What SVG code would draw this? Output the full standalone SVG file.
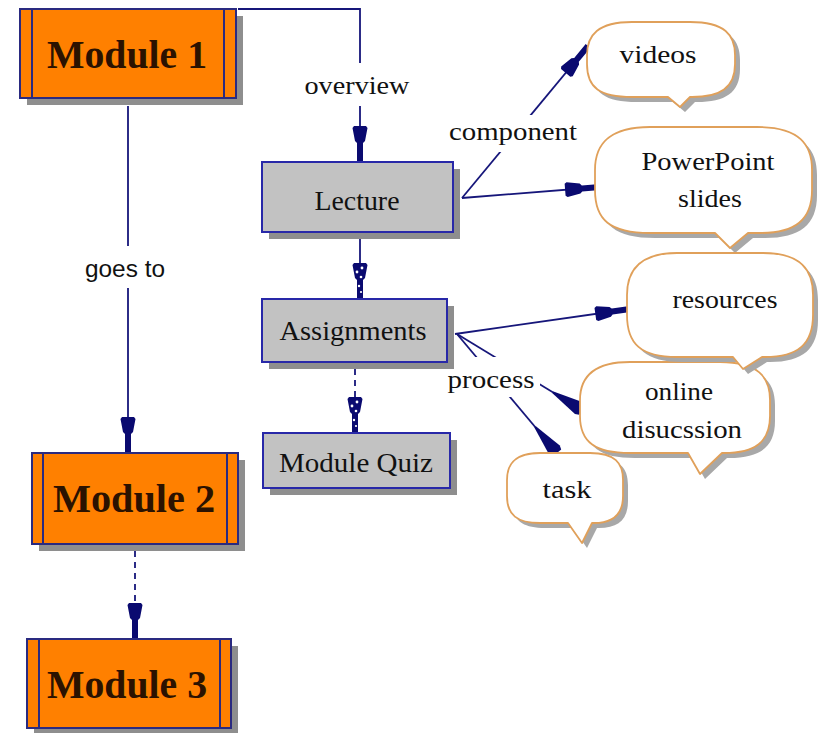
<svg xmlns="http://www.w3.org/2000/svg" width="819" height="733" viewBox="0 0 819 733">
<style>
.bg{fill:#ffffff}
.mod{fill:#ff8000;stroke:#2a2a80;stroke-width:2}
.modl{stroke:#2a2a80;stroke-width:2}
.gry{fill:#c2c2c2;stroke:#2828a8;stroke-width:2}
.sh{fill:#8e8e8e}
.bub{fill:#ffffff;stroke:#e0a05a;stroke-width:1.8;stroke-linejoin:round}
.bsh{fill:#a8a8a8}
.ln{fill:none;stroke:#16167a;stroke-width:1.8}
.dash{stroke-dasharray:6 5}
.lbg{fill:#ffffff}
.t{font-family:"Liberation Serif","Times New Roman",serif;fill:#111;text-anchor:middle}
.tm{font-family:"Liberation Serif","Times New Roman",serif;fill:#2b1200;text-anchor:middle;font-size:40px;font-weight:bold}
.ts{font-family:"Liberation Sans",Arial,sans-serif;fill:#111;text-anchor:middle;font-size:23px}
</style>
<defs>
<marker id="nib" viewBox="-36 -9 37 18" refX="0" refY="0" markerWidth="37" markerHeight="18" markerUnits="userSpaceOnUse" orient="auto">
<path d="M-35,-6 L-33,-7.5 L-20,-5 L-18,-3 L0,-3 L0,3 L-18,3 L-20,5 L-33,7.5 L-35,6 Z" fill="#0a0a70"/>
</marker>
<marker id="nibd" viewBox="-36 -9 37 18" refX="0" refY="0" markerWidth="37" markerHeight="18" markerUnits="userSpaceOnUse" orient="auto">
<path d="M-35,-6 L-33,-7.5 L-20,-5 L-18,-3 L0,-3 L0,3 L-18,3 L-20,5 L-33,7.5 L-35,6 Z" fill="#0a0a70"/>
<circle cx="-30" cy="-2" r="1.4" fill="#fff"/><circle cx="-26" cy="3" r="1.4" fill="#fff"/><circle cx="-21" cy="-1" r="1.3" fill="#fff"/><circle cx="-12" cy="1" r="1.2" fill="#fff"/><circle cx="-6" cy="-1" r="1.1" fill="#fff"/>
</marker>
<marker id="wedge" viewBox="-36 -8 37 16" refX="0" refY="0" markerWidth="37" markerHeight="16" markerUnits="userSpaceOnUse" orient="auto">
<path d="M-34,-1 L-4,-7 L0,-5.5 L0,5.5 L-4,7 L-34,1 Z" fill="#0a0a70"/>
</marker>
</defs>
<rect class="bg" x="0" y="0" width="819" height="733"/>

<g id="connectors">
<path class="ln" d="M238,9 H360 V161" marker-end="url(#nib)"/>
<rect class="lbg" x="300" y="63" width="115" height="43"/>
<text class="t" x="357" y="94" font-size="26" textLength="105" lengthAdjust="spacingAndGlyphs">overview</text>

<path class="ln" d="M128,106 V452" marker-end="url(#nib)"/>
<rect class="lbg" x="82" y="246" width="90" height="42"/>
<text class="ts" x="125" y="277" textLength="80" lengthAdjust="spacingAndGlyphs">goes to</text>

<path class="ln dash" d="M135,551 V638" marker-end="url(#nib)"/>

<path class="ln" d="M360,239 V298" marker-end="url(#nibd)"/>
<path class="ln dash" d="M355,369 V432" marker-end="url(#nibd)"/>

<path class="ln" d="M462,198 L588,46" marker-end="url(#nib)"/>
<path class="ln" d="M462,198 L600,187" marker-end="url(#nib)"/>
<rect class="lbg" x="446" y="115" width="134" height="37"/>
<text class="t" x="513" y="140" font-size="26" textLength="128" lengthAdjust="spacingAndGlyphs">component</text>

<path class="ln" d="M455,334 L630,309" marker-end="url(#nib)"/>
<path class="ln" d="M457,334 L582,410" marker-end="url(#wedge)"/>
<path class="ln" d="M457,334 L557,453" marker-end="url(#wedge)"/>
<rect class="lbg" x="445" y="357" width="95" height="40"/>
<text class="t" x="491" y="388" font-size="26" textLength="87" lengthAdjust="spacingAndGlyphs">process</text>
</g>

<g id="module1">
<rect class="sh" x="27" y="16" width="216" height="89"/>
<rect class="mod" x="20" y="9" width="216" height="89"/>
<line class="modl" x1="32" y1="9" x2="32" y2="98"/><line class="modl" x1="224" y1="9" x2="224" y2="98"/>
<text class="tm" x="127" y="68" textLength="160" lengthAdjust="spacingAndGlyphs">Module 1</text>
</g>
<g id="module2">
<rect class="sh" x="39" y="460" width="206" height="91"/>
<rect class="mod" x="32" y="453" width="206" height="91"/>
<line class="modl" x1="43" y1="453" x2="43" y2="544"/><line class="modl" x1="227" y1="453" x2="227" y2="544"/>
<text class="tm" x="134" y="512" textLength="162" lengthAdjust="spacingAndGlyphs">Module 2</text>
</g>
<g id="module3">
<rect class="sh" x="34" y="646" width="204" height="89"/>
<rect class="mod" x="27" y="639" width="204" height="89"/>
<line class="modl" x1="39" y1="639" x2="39" y2="728"/><line class="modl" x1="220" y1="639" x2="220" y2="728"/>
<text class="tm" x="127" y="698" textLength="160" lengthAdjust="spacingAndGlyphs">Module 3</text>
</g>
<g id="lecture">
<rect class="sh" x="269" y="169" width="191" height="70"/>
<rect class="gry" x="262" y="162" width="191" height="70"/>
<text class="t" x="357" y="210" font-size="27" textLength="85" lengthAdjust="spacingAndGlyphs">Lecture</text>
</g>
<g id="assignments">
<rect class="sh" x="269" y="306" width="185" height="63"/>
<rect class="gry" x="262" y="299" width="185" height="63"/>
<text class="t" x="353" y="340" font-size="27" textLength="147" lengthAdjust="spacingAndGlyphs">Assignments</text>
</g>
<g id="quiz">
<rect class="sh" x="270" y="440" width="187" height="55"/>
<rect class="gry" x="263" y="433" width="187" height="55"/>
<text class="t" x="356" y="472" font-size="27" textLength="154" lengthAdjust="spacingAndGlyphs">Module Quiz</text>
</g>

<g id="videos">
<path class="bsh" transform="translate(5,5)" d="M632,22 L690,22 C725,22 735,35 735,55 L735,64 C735,88 720,97 692,97 L690,97 L680,107 L668,97 L632,97 C600,97 587,88 587,64 L587,55 C587,35 598,22 632,22 Z"/>
<path class="bub" d="M632,22 L690,22 C725,22 735,35 735,55 L735,64 C735,88 720,97 692,97 L690,97 L680,107 L668,97 L632,97 C600,97 587,88 587,64 L587,55 C587,35 598,22 632,22 Z"/>
<text class="t" x="658" y="63" font-size="26" textLength="77" lengthAdjust="spacingAndGlyphs">videos</text>
</g>
<g id="powerpoint">
<path class="bsh" transform="translate(5,5)" d="M650,127 L757,127 C800,127 812,145 812,170 L812,190 C812,220 795,233 760,233 L748,233 L730,248 L715,233 L650,233 C610,233 595,220 595,190 L595,170 C595,145 608,127 650,127 Z"/>
<path class="bub" d="M650,127 L757,127 C800,127 812,145 812,170 L812,190 C812,220 795,233 760,233 L748,233 L730,248 L715,233 L650,233 C610,233 595,220 595,190 L595,170 C595,145 608,127 650,127 Z"/>
<text class="t" x="708" y="170" font-size="26" textLength="133" lengthAdjust="spacingAndGlyphs">PowerPoint</text>
<text class="t" x="710" y="207" font-size="26" textLength="64" lengthAdjust="spacingAndGlyphs">slides</text>
</g>
<g id="online">
<path class="bsh" transform="translate(5,5)" d="M630,362 L720,362 C758,362 770,377 770,400 L770,416 C770,442 755,453 724,453 L722,453 L700,474 L688,453 L630,453 C595,453 580,442 580,416 L580,400 C580,377 593,362 630,362 Z"/>
<path class="bub" d="M630,362 L720,362 C758,362 770,377 770,400 L770,416 C770,442 755,453 724,453 L722,453 L700,474 L688,453 L630,453 C595,453 580,442 580,416 L580,400 C580,377 593,362 630,362 Z"/>
<text class="t" x="679" y="400" font-size="26" textLength="68" lengthAdjust="spacingAndGlyphs">online</text>
<text class="t" x="682" y="438" font-size="26" textLength="120" lengthAdjust="spacingAndGlyphs">disucssion</text>
</g>
<g id="resources">
<path class="bsh" transform="translate(5,5)" d="M677,253 L763,253 C801,253 813,270 813,295 L813,315 C813,344 798,357 765,357 L762,357 L743,369 L733,357 L677,357 C641,357 627,344 627,315 L627,295 C627,270 640,253 677,253 Z"/>
<path class="bub" d="M677,253 L763,253 C801,253 813,270 813,295 L813,315 C813,344 798,357 765,357 L762,357 L743,369 L733,357 L677,357 C641,357 627,344 627,315 L627,295 C627,270 640,253 677,253 Z"/>
<text class="t" x="725" y="308" font-size="26" textLength="105" lengthAdjust="spacingAndGlyphs">resources</text>
</g>
<g id="task">
<path class="bsh" transform="translate(5,5)" d="M540,453 L590,453 C615,453 623,463 623,480 L623,496 C623,515 613,523 594,523 L592,523 L582,543 L568,523 L540,523 C517,523 507,515 507,496 L507,480 C507,463 516,453 540,453 Z"/>
<path class="bub" d="M540,453 L590,453 C615,453 623,463 623,480 L623,496 C623,515 613,523 594,523 L592,523 L582,543 L568,523 L540,523 C517,523 507,515 507,496 L507,480 C507,463 516,453 540,453 Z"/>
<text class="t" x="567" y="498" font-size="26" textLength="49" lengthAdjust="spacingAndGlyphs">task</text>
</g>
</svg>
